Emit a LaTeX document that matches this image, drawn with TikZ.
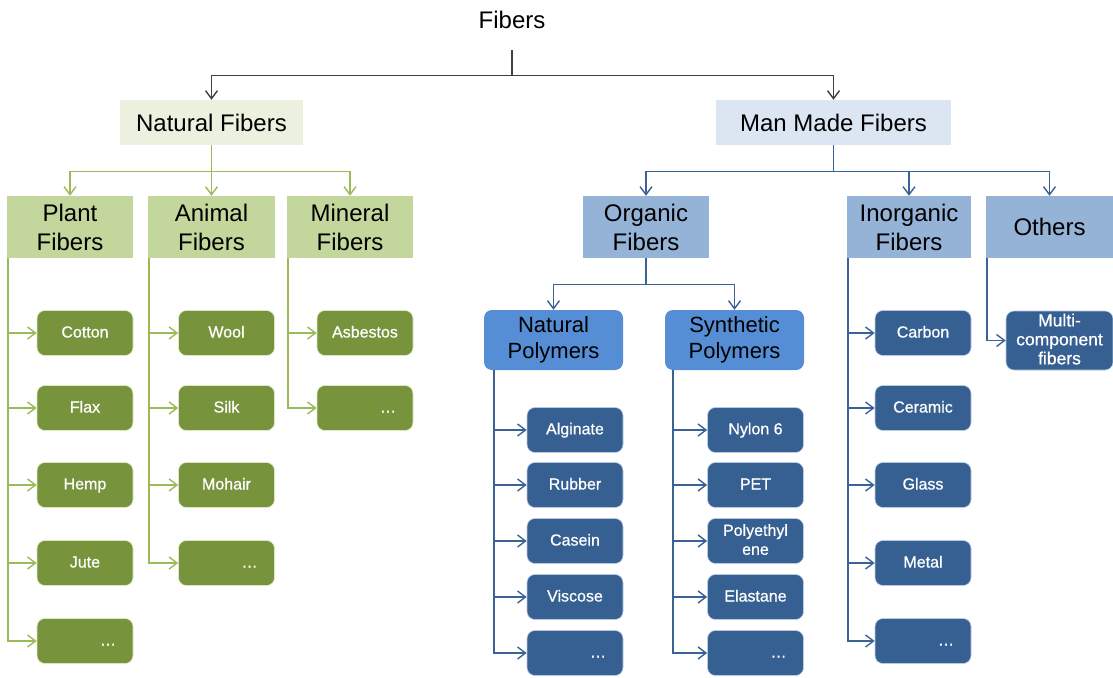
\documentclass[tikz,border=0pt]{standalone}
\usepackage{fontspec}
\setmainfont{Liberation Sans}
\newfontface\leaffont{Liberation Sans}[FakeBold=0.7]
\usetikzlibrary{arrows.meta}
\definecolor{natlight}{HTML}{EBF1DE}
\definecolor{manlight}{HTML}{DCE6F2}
\definecolor{greenmid}{HTML}{C3D69B}
\definecolor{greendark}{HTML}{77933C}
\definecolor{greenline}{HTML}{9BBB59}
\definecolor{bluemid}{HTML}{95B3D7}
\definecolor{bluepoly}{HTML}{558ED5}
\definecolor{bluedark}{HTML}{376092}
\definecolor{blueline}{HTML}{3B6294}
\newcommand{\leafstrut}{\rule[-3pt]{0pt}{15pt}}
\begin{document}
\begin{tikzpicture}[x=1pt, y=-1pt,
    headbox/.style={rectangle, inner sep=0pt, minimum height=45pt, font=\fontsize{24}{29}\selectfont, align=center},
    groupbox/.style={rectangle, inner sep=0pt, minimum width=126pt, minimum height=62pt, font=\fontsize{24}{29}\selectfont, align=center},
    polybox/.style={rectangle, rounded corners=8pt, fill=bluepoly, inner sep=0pt, minimum width=139pt, minimum height=60pt, font=\fontsize{22}{26}\selectfont, align=center},
    gleaf/.style={rectangle, rounded corners=8pt, fill=greendark, draw=greenmid!60, line width=0.6pt, text=white, inner sep=0pt, minimum width=96pt, minimum height=45pt, font=\leaffont\fontsize{16}{19}\selectfont, align=center, execute at begin node=\leafstrut},
    bleaf/.style={gleaf, fill=bluedark, draw=bluemid!70},
    tarrow/.style={-{Straight Barb[length=8pt, width=12pt]}, line width=1.4pt, black!75},
    garrow/.style={tarrow, greenline},
    barrow/.style={tarrow, blueline}]
    \useasboundingbox (0,0) rectangle (1113,677);

    % Nodes
    \node[inner sep=0pt, minimum height=60pt, font=\fontsize{24}{29}\selectfont] (fibers) at (512,20) {Fibers};
    \node[headbox, fill=natlight, minimum width=183pt] (natural) at (211.5,122.5) {Natural Fibers};
    \node[headbox, fill=manlight, minimum width=235pt] (manmade) at (833.5,122.5) {Man Made Fibers};

    \node[groupbox, fill=greenmid] (plant) at (70,227) {Plant\\Fibers};
    \node[groupbox, fill=greenmid, minimum width=127pt] (animal) at (211.5,227) {Animal\\Fibers};
    \node[groupbox, fill=greenmid] (mineral) at (350,227) {Mineral\\Fibers};
    \node[groupbox, fill=bluemid] (organic) at (646,227) {Organic\\Fibers};
    \node[groupbox, fill=bluemid, minimum width=124pt] (inorganic) at (909,227) {Inorganic\\Fibers};
    \node[groupbox, fill=bluemid, minimum width=127pt] (others) at (1049.5,227) {Others};

    \node[polybox] (natpoly) at (553.5,340) {Natural\\Polymers};
    \node[polybox] (synpoly) at (734.5,340) {Synthetic\\Polymers};

    \node[gleaf] (cotton) at (85,333) {Cotton};
    \node[gleaf] (flax) at (85,408) {Flax};
    \node[gleaf] (hemp) at (85,485) {Hemp};
    \node[gleaf] (jute) at (85,563) {Jute};
    \node[gleaf] (plantmore) at (85,641) {\hspace*{46pt}…};

    \node[gleaf] (wool) at (226.5,333) {Wool};
    \node[gleaf] (silk) at (226.5,408) {Silk};
    \node[gleaf] (mohair) at (226.5,485) {Mohair};
    \node[gleaf] (animalmore) at (226.5,563) {\hspace*{46pt}…};

    \node[gleaf] (asbestos) at (365,333) {Asbestos};
    \node[gleaf] (mineralmore) at (365,408) {\hspace*{46pt}…};

    \node[bleaf] (alginate) at (575,430) {Alginate};
    \node[bleaf] (rubber) at (575,485) {Rubber};
    \node[bleaf] (casein) at (575,541) {Casein};
    \node[bleaf] (viscose) at (575,597) {Viscose};
    \node[bleaf] (natpolymore) at (575,653) {\hspace*{46pt}…};

    \node[bleaf] (nylon) at (755.5,430) {Nylon 6};
    \node[bleaf] (pet) at (755.5,485) {PET};
    \node[bleaf] (polyeth) at (755.5,541) {Polyethyl\\ene};
    \node[bleaf] (elastane) at (755.5,597) {Elastane};
    \node[bleaf] (synpolymore) at (755.5,653) {\hspace*{46pt}…};

    \node[bleaf] (carbon) at (923,333) {Carbon};
    \node[bleaf] (ceramic) at (923,408) {Ceramic};
    \node[bleaf] (glass) at (923,485) {Glass};
    \node[bleaf] (metal) at (923,563) {Metal};
    \node[bleaf] (inorgmore) at (923,641) {\hspace*{46pt}…};

    \node[bleaf, minimum width=107pt, minimum height=59pt, font=\leaffont\fontsize{17.5}{19}\selectfont] (multi) at (1059.5,340.5) {Multi-\\component\\fibers};

    % Arrows
    \draw[tarrow] (fibers.south) -- +(0,25) -| (natural.north);
    \draw[tarrow] (fibers.south) -- +(0,25) -| (manmade.north);

    \draw[garrow] (natural.south) -- +(0,26) -| (plant.north);
    \draw[garrow] (natural.south) -- (animal.north);
    \draw[garrow] (natural.south) -- +(0,26) -| (mineral.north);
    \draw[barrow] (manmade.south) -- +(0,26) -| (organic.north);
    \draw[barrow] (manmade.south) -- +(0,26) -| (inorganic.north);
    \draw[barrow] (manmade.south) -- +(0,26) -| (others.north);
    \draw[barrow] (organic.south) -- +(0,26) -| (natpoly.north);
    \draw[barrow] (organic.south) -- +(0,26) -| (synpoly.north);

    \draw[garrow] ([xshift=1pt]plant.south west) |- (cotton.west);
    \draw[garrow] ([xshift=1pt]plant.south west) |- (flax.west);
    \draw[garrow] ([xshift=1pt]plant.south west) |- (hemp.west);
    \draw[garrow] ([xshift=1pt]plant.south west) |- (jute.west);
    \draw[garrow] ([xshift=1pt]plant.south west) |- (plantmore.west);

    \draw[garrow] ([xshift=1pt]animal.south west) |- (wool.west);
    \draw[garrow] ([xshift=1pt]animal.south west) |- (silk.west);
    \draw[garrow] ([xshift=1pt]animal.south west) |- (mohair.west);
    \draw[garrow] ([xshift=1pt]animal.south west) |- (animalmore.west);

    \draw[garrow] ([xshift=1pt]mineral.south west) |- (asbestos.west);
    \draw[garrow] ([xshift=1pt]mineral.south west) |- (mineralmore.west);

    \draw[barrow] ([xshift=10pt]natpoly.south west) |- (alginate.west);
    \draw[barrow] ([xshift=10pt]natpoly.south west) |- (rubber.west);
    \draw[barrow] ([xshift=10pt]natpoly.south west) |- (casein.west);
    \draw[barrow] ([xshift=10pt]natpoly.south west) |- (viscose.west);
    \draw[barrow] ([xshift=10pt]natpoly.south west) |- (natpolymore.west);

    \draw[barrow] ([xshift=8pt]synpoly.south west) |- (nylon.west);
    \draw[barrow] ([xshift=8pt]synpoly.south west) |- (pet.west);
    \draw[barrow] ([xshift=8pt]synpoly.south west) |- (polyeth.west);
    \draw[barrow] ([xshift=8pt]synpoly.south west) |- (elastane.west);
    \draw[barrow] ([xshift=8pt]synpoly.south west) |- (synpolymore.west);

    \draw[barrow] ([xshift=1pt]inorganic.south west) |- (carbon.west);
    \draw[barrow] ([xshift=1pt]inorganic.south west) |- (ceramic.west);
    \draw[barrow] ([xshift=1pt]inorganic.south west) |- (glass.west);
    \draw[barrow] ([xshift=1pt]inorganic.south west) |- (metal.west);
    \draw[barrow] ([xshift=1pt]inorganic.south west) |- (inorgmore.west);

    \draw[barrow] ([xshift=1pt]others.south west) |- (multi.west);
\end{tikzpicture}
\end{document}
